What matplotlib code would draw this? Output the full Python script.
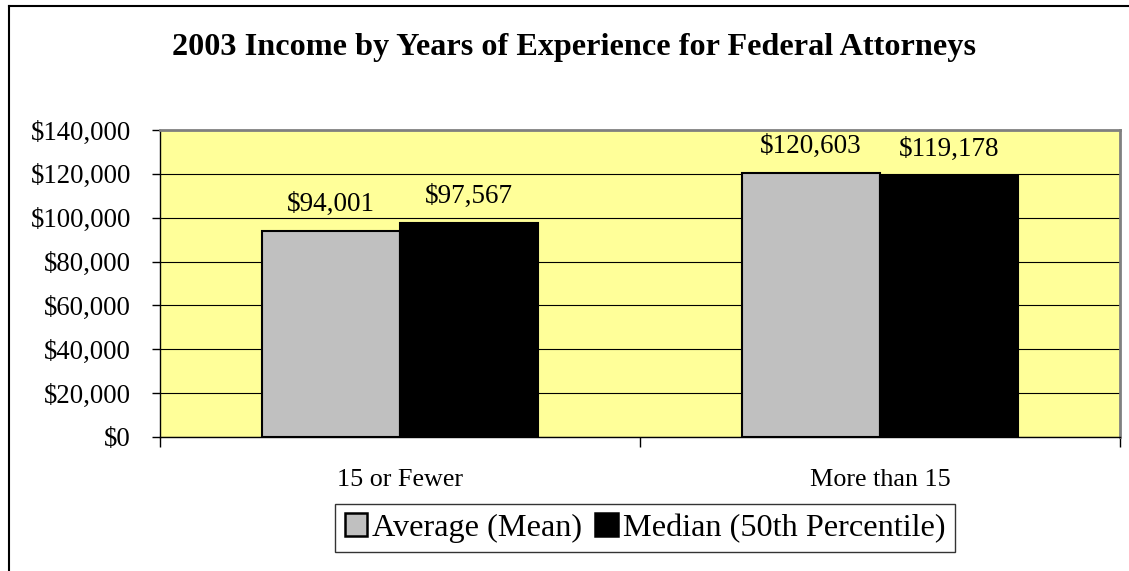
import matplotlib
matplotlib.use("Agg")
import matplotlib.pyplot as plt
from matplotlib.lines import Line2D
from matplotlib.patches import Patch
import numpy as np

categories = ["15 or Fewer", "More than 15"]
series_names = ["Average (Mean)", "Median (50th Percentile)"]
mean_values = [94001, 120603]
median_values = [97567, 119178]
yticks = [0, 20000, 40000, 60000, 80000, 100000, 120000, 140000]
title = "2003 Income by Years of Experience for Federal Attorneys"

plt.rcParams['font.family'] = ['Liberation Serif', 'DejaVu Serif']

W, H = 1129, 571
fig = plt.figure(figsize=(W/100, H/100), dpi=100)
ax = fig.add_axes([160/W, 1-437/H, 960/W, 307/H])
ax.set_facecolor('#FFFF99')

x = np.arange(len(categories))
bw = 0.2875
b1 = ax.bar(x - bw/2, mean_values, bw, color='#C0C0C0', edgecolor='black', linewidth=1.5, zorder=3)
b2 = ax.bar(x + bw/2, median_values, bw, color='black', edgecolor='black', linewidth=1.5, zorder=3)

for bars, vals in ((b1, mean_values), (b2, median_values)):
    for r, v in zip(bars, vals):
        ax.annotate(f"${v:,}", (r.get_x() + r.get_width()/2, v), xytext=(0, 19),
                    textcoords='offset points', ha='center', va='center', fontsize=19.5)

ax.set_xlim(-0.5, 1.5)
ax.set_ylim(0, 140000)
ax.set_yticks(yticks)
ax.set_yticklabels([f"${v:,}" for v in yticks], fontsize=19.3)
ax.yaxis.grid(True, color='black', linewidth=0.8, zorder=0)
ax.set_axisbelow(True)
ax.tick_params(axis='y', direction='out', length=6, width=1, pad=15)

ax.set_xticks([-0.5, 0.5, 1.5])
ax.set_xticklabels([])
ax.set_xticks(x, minor=True)
ax.set_xticklabels(categories, minor=True, fontsize=18.8)
ax.tick_params(axis='x', which='major', direction='out', length=7, width=1)
ax.tick_params(axis='x', which='minor', length=0, pad=23)

for s in ('top', 'right'):
    ax.spines[s].set_color('#808080')
    ax.spines[s].set_linewidth(2)
for s in ('left', 'bottom'):
    ax.spines[s].set_color('black')
    ax.spines[s].set_linewidth(1)

fig.text(574/W, 1-47/H, title, ha='center', va='center', fontsize=23.2, fontweight='bold')

handles = [Patch(facecolor='#C0C0C0', edgecolor='black', linewidth=1.8),
           Patch(facecolor='black', edgecolor='black', linewidth=1.8)]
leg = fig.legend(handles, series_names, loc='center', bbox_to_anchor=(645/W, 1-528/H),
                 ncol=2, fontsize=23.2, frameon=True, fancybox=False, handlelength=0.7,
                 handleheight=0.7, handletextpad=0.15, columnspacing=0.4, borderpad=0.3,
                 borderaxespad=0)
leg.get_frame().set_edgecolor('black')
leg.get_frame().set_linewidth(1)

fig.add_artist(Line2D([9/W, 9/W], [0, 1-6/H], color='black', linewidth=1.5, transform=fig.transFigure))
fig.add_artist(Line2D([9/W, 1], [1-6/H, 1-6/H], color='black', linewidth=1.5, transform=fig.transFigure))

fig.savefig('out.png', dpi=100)
